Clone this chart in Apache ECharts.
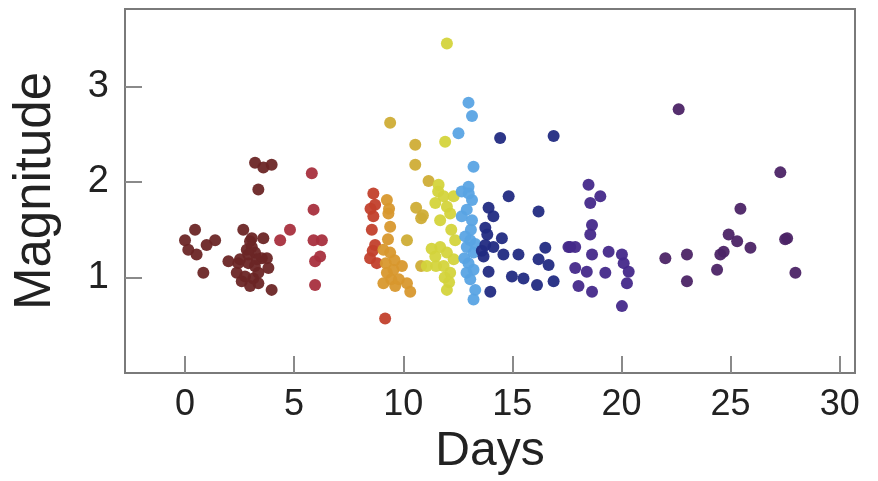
<!DOCTYPE html>
<html>
<head>
<meta charset="utf-8">
<script src="https://cdn.jsdelivr.net/npm/echarts@6/dist/echarts.min.js"></script>
<style>
  html, body { margin: 0; padding: 0; background: #fff; }
  #chart { width: 878px; height: 481px; }
</style>
</head>
<body>
<div id="chart"></div>
<script>
// tick labels
var xTicks = [0, 5, 10, 15, 20, 25, 30];
var yTicks = [1, 2, 3];

// [day, magnitude] per group
var brown = [[0.46,1.50],[0.0,1.39],[1.38,1.39],[0.99,1.34],[0.15,1.29],[0.53,1.24],[0.84,1.05],
  [2.67,1.50],[3.06,1.41],[3.59,1.41],[2.83,1.29],[3.21,1.26],[3.52,1.20],[1.99,1.17],[2.44,1.15],
  [2.90,1.15],[3.82,1.10],[2.37,1.05],[2.75,1.01],[3.13,0.99],[2.60,0.96],[3.36,0.94],[3.97,0.87],
  [2.98,0.91],[3.21,2.20],[3.59,2.15],[3.97,2.18],[3.36,1.92],[3.29,1.19],[2.98,1.38],[3.06,1.32],
  [2.52,1.19],[3.36,1.05],[3.75,1.20],[2.90,1.24],[3.20,1.12]];
var crimson = [[4.81,1.50],[4.36,1.39],[5.81,2.09],[5.89,1.71],[5.89,1.39],[6.27,1.39],[6.19,1.22],
  [5.96,1.17],[5.96,0.92]];
var red = [[8.63,1.88],[8.71,1.76],[8.63,1.64],[8.56,1.50],[8.71,1.34],[8.48,1.20],[8.79,1.15],
  [9.17,0.57],[8.50,1.72],[8.60,1.28]];
var orange = [[9.25,1.81],[9.32,1.67],[9.40,1.53],[9.09,1.29],[9.40,1.26],[9.25,1.05],[9.55,1.08],
  [9.09,0.94],[9.63,0.91],[10.17,0.94],[10.32,0.85],[9.94,1.12],[9.30,1.40],[9.60,1.18],[9.45,0.98],
  [9.20,1.15],[9.80,0.98],[9.35,1.72]];
var gold = [[9.40,2.62],[10.55,2.39],[10.55,2.18],[10.17,1.39],[10.59,1.73],[10.82,1.62],[11.16,2.01],
  [10.82,1.12],[10.90,1.65]];
var yellow = [[12.0,3.45],[11.92,2.42],[11.62,1.97],[11.85,1.85],[11.47,1.78],[12.0,1.74],[12.31,1.85],
  [11.69,1.60],[12.15,1.67],[11.08,1.12],[11.47,1.22],[11.69,1.32],[12.0,1.26],[11.85,1.12],[12.15,1.05],
  [12.0,0.87],[12.31,1.19],[12.38,1.39],[11.30,1.30],[11.90,1.00],[12.20,1.50],[11.60,1.90],[12.10,0.95],
  [11.50,1.12]];
var lightBlue = [[12.99,2.83],[13.15,2.69],[12.53,2.51],[13.22,2.16],[12.99,1.95],[12.68,1.90],[13.15,1.81],
  [12.91,1.71],[12.68,1.64],[13.15,1.60],[12.84,1.43],[13.07,1.39],[12.91,1.32],[13.22,1.26],[12.99,1.15],
  [13.22,1.08],[13.07,0.98],[13.30,0.87],[13.22,0.77],[12.80,1.20],[13.10,1.50],[12.90,1.05],[13.0,1.88],
  [13.30,1.35]];
var darkBlue = [[14.44,2.46],[16.89,2.48],[14.83,1.85],[13.91,1.73],[14.13,1.64],[16.20,1.69],[13.76,1.52],
  [14.52,1.41],[13.76,1.34],[14.13,1.32],[13.68,1.22],[14.59,1.24],[15.28,1.24],[16.51,1.31],[16.20,1.19],
  [16.66,1.13],[13.91,1.06],[14.98,1.01],[15.51,0.99],[16.13,0.92],[16.89,0.96],[13.99,0.85],[13.60,1.28],
  [13.85,1.45]];
var indigo = [[17.57,1.32],[18.49,1.97],[19.03,1.85],[18.57,1.78],[18.65,1.55],[18.57,1.45],[17.88,1.32],
  [17.65,1.32],[18.65,1.24],[19.41,1.27],[20.02,1.24],[20.10,1.15],[20.33,1.06],[17.88,1.10],[18.41,1.06],
  [19.26,1.05],[20.25,0.94],[18.03,0.91],[18.65,0.85],[20.02,0.70]];
var purple = [[22.62,2.76],[22.01,1.20],[23.0,1.24],[23.0,0.96],[24.38,1.08],[27.28,2.10],[25.45,1.72],
  [24.91,1.45],[25.30,1.38],[25.91,1.31],[24.68,1.27],[24.53,1.24],[27.59,1.41],[27.50,1.40],[27.97,1.05]];

var groups = [
  [brown, '#6b2626'], [crimson, '#a8303e'], [red, '#c2402c'], [orange, '#d8982e'],
  [gold, '#cfad36'], [yellow, '#d4d43c'], [lightBlue, '#5aa4e4'], [darkBlue, '#222b82'],
  [indigo, '#45298a'], [purple, '#4c2466']
];

var font = '"Liberation Sans", Arial, sans-serif';
var myChart = echarts.init(document.getElementById('chart'));

var option = {
  animation: false,
  grid: {
    left: 125, right: 23, top: 9, bottom: 108,
    show: true, borderColor: '#7a7a7a', borderWidth: 2
  },
  xAxis: {
    type: 'value', min: -2.75, max: 30.7,
    name: 'Days', nameLocation: 'middle', nameGap: 41,
    nameTextStyle: { fontSize: 48, color: '#222', fontFamily: font },
    splitLine: { show: false },
    axisLine: { show: false, onZero: false },
    axisTick: { inside: true, length: 17, lineStyle: { color: '#8a8a8a', width: 2 }, customValues: xTicks },
    axisLabel: { fontSize: 36, color: '#222', fontFamily: font, margin: 14, customValues: xTicks }
  },
  yAxis: {
    type: 'value', min: 0, max: 3.81,
    name: 'Magnitude', nameLocation: 'middle', nameGap: 64,
    nameTextStyle: { fontSize: 51, color: '#222', fontFamily: font },
    splitLine: { show: false },
    axisLine: { show: false, onZero: false },
    axisTick: { inside: true, length: 17, lineStyle: { color: '#8a8a8a', width: 2 }, customValues: yTicks },
    axisLabel: { fontSize: 38, color: '#222', fontFamily: font, margin: 16, customValues: yTicks }
  },
  series: groups.map(function (g) {
    return {
      type: 'scatter',
      symbolSize: 12,
      itemStyle: { color: g[1], opacity: 0.95 },
      data: g[0]
    };
  })
};

myChart.setOption(option, true);
</script>
</body>
</html>
